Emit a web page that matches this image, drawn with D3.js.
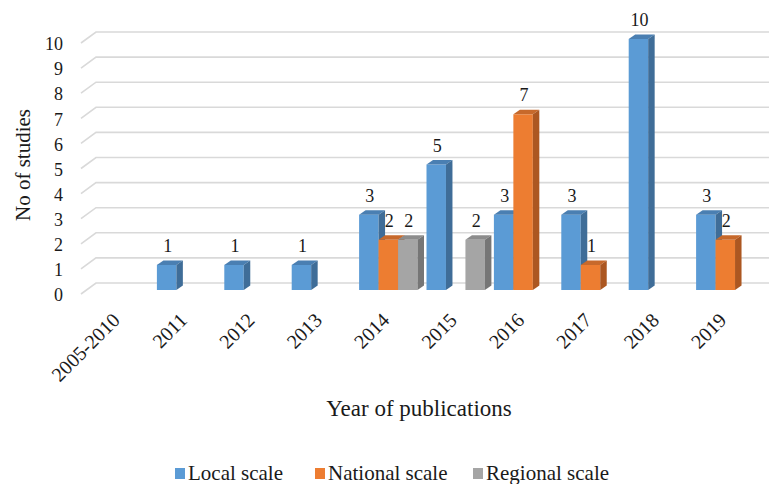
<!DOCTYPE html>
<html>
<head>
<meta charset="utf-8">
<script src="https://cdn.jsdelivr.net/npm/d3@7/dist/d3.min.js"></script>
</head>
<body style="margin:0;padding:0;background:#fff">
<svg id="chart" width="771" height="484" style="display:block"></svg>
<script>
// ---- data ----
const categories = ["2005-2010", "2011", "2012", "2013", "2014", "2015", "2016", "2017", "2018", "2019"];
const seriesNames = ["Local scale", "National scale", "Regional scale"];
const localScale    = [0, 1, 1, 1, 3, 5, 3, 3, 10, 3];
const nationalScale = [0, 0, 0, 0, 2, 0, 7, 1, 0, 2];
const regionalScale = [0, 0, 0, 0, 2, 2, 0, 0, 0, 0];
const yTicks = [0, 1, 2, 3, 4, 5, 6, 7, 8, 9, 10];

const seriesValues = [localScale, nationalScale, regionalScale];
const colors = [
  { front: "#5B9BD5", side: "#3F6D98", top: "#4A7FB2" },
  { front: "#ED7D31", side: "#AC5721", top: "#C7692B" },
  { front: "#A5A5A5", side: "#767676", top: "#8C8C8C" }
];

const FONT = '"Liberation Serif"';
const svg = d3.select("#chart");
const textColor = "#1a1a1a";

// ---- scales ----
const y = d3.scaleLinear().domain([0, 10]).range([290, 39]);
const x = d3.scaleBand().domain(categories).range([85, 759])
  .paddingInner(9 / 67.4).paddingOuter(4.5 / 67.4);
const xSub = d3.scaleBand().domain(seriesNames).range([0, x.bandwidth()]);

const dx = 6.5, dy = -4.5;        // bar depth
const wallDx = 15, wallDy = -11;  // wall depth
const gridRight = 769;

// ---- gridlines (side wall diagonal + back wall) ----
const grid = svg.append("g");
grid.selectAll("path").data(yTicks).enter().append("path")
  .attr("d", v => {
    const yf = y(v) + 4;
    return `M${81},${yf} L${81 + wallDx},${yf + wallDy} L${gridRight},${yf + wallDy}`;
  })
  .attr("fill", "none")
  .attr("stroke", "#D9D9D9")
  .attr("stroke-width", 1.6);

// ---- y axis labels ----
const yAxis = svg.append("g")
  .attr("transform", "translate(63,5)")
  .call(d3.axisLeft(y).tickValues(yTicks).tickSize(0).tickPadding(0).tickFormat(d3.format("d")));
yAxis.select(".domain").remove();
yAxis.selectAll("text")
  .style("font-family", FONT)
  .style("font-size", "18px")
  .attr("fill", textColor);

// ---- x axis labels ----
const xAxis = svg.append("g")
  .attr("transform", "translate(-2.6,316.5)")
  .call(d3.axisBottom(x).tickSize(0).tickPadding(0));
xAxis.select(".domain").remove();
xAxis.selectAll("text")
  .style("font-family", FONT)
  .style("font-size", "20px")
  .attr("fill", textColor)
  .attr("x", 0).attr("y", 0).attr("dy", "0.35em")
  .attr("text-anchor", "end")
  .attr("transform", "rotate(-45)");

// ---- bars ----
const bars = [];
categories.forEach((c, ci) => {
  seriesNames.forEach((s, si) => {
    const v = seriesValues[si][ci];
    if (v > 0) bars.push({ c, s, si, v });
  });
});

const barG = svg.append("g");
bars.forEach(b => {
  const x0 = x(b.c) + xSub(b.s);
  const w = xSub.bandwidth();
  const yt = y(b.v), yb = y(0);
  const g = barG.append("g");
  g.append("rect")
    .attr("x", x0).attr("y", yt).attr("width", w).attr("height", yb - yt)
    .attr("fill", colors[b.si].front);
  g.append("path")
    .attr("d", `M${x0},${yt} L${x0 + dx},${yt + dy} L${x0 + w + dx},${yt + dy} L${x0 + w},${yt} Z`)
    .attr("fill", colors[b.si].top);
  g.append("path")
    .attr("d", `M${x0 + w},${yt} L${x0 + w + dx},${yt + dy} L${x0 + w + dx},${yb + dy} L${x0 + w},${yb} Z`)
    .attr("fill", colors[b.si].side);
});

// ---- data labels ----
svg.append("g").selectAll("text").data(bars).enter().append("text")
  .attr("x", b => x(b.c) + xSub(b.s) + xSub.bandwidth() / 2 + 1)
  .attr("y", b => y(b.v) - 13)
  .attr("text-anchor", "middle")
  .style("font-family", FONT)
  .style("font-size", "18px")
  .attr("fill", textColor)
  .text(b => b.v);

// ---- axis titles ----
svg.append("text")
  .attr("transform", "translate(30,165) rotate(-90)")
  .attr("text-anchor", "middle")
  .style("font-family", FONT)
  .style("font-size", "21px")
  .attr("fill", textColor)
  .text("No of studies");

svg.append("text")
  .attr("x", 419).attr("y", 416)
  .attr("text-anchor", "middle")
  .style("font-family", FONT)
  .style("font-size", "23px")
  .attr("fill", textColor)
  .text("Year of publications");

// ---- legend ----
const legendX = [175, 315, 473];
const legend = svg.append("g");
seriesNames.forEach((s, i) => {
  legend.append("rect")
    .attr("x", legendX[i]).attr("y", 468).attr("width", 10).attr("height", 11)
    .attr("fill", colors[i].front);
  legend.append("text")
    .attr("x", legendX[i] + 13).attr("y", 480)
    .style("font-family", FONT)
    .style("font-size", "21px")
    .attr("fill", textColor)
    .text(s);
});
</script>
</body>
</html>
